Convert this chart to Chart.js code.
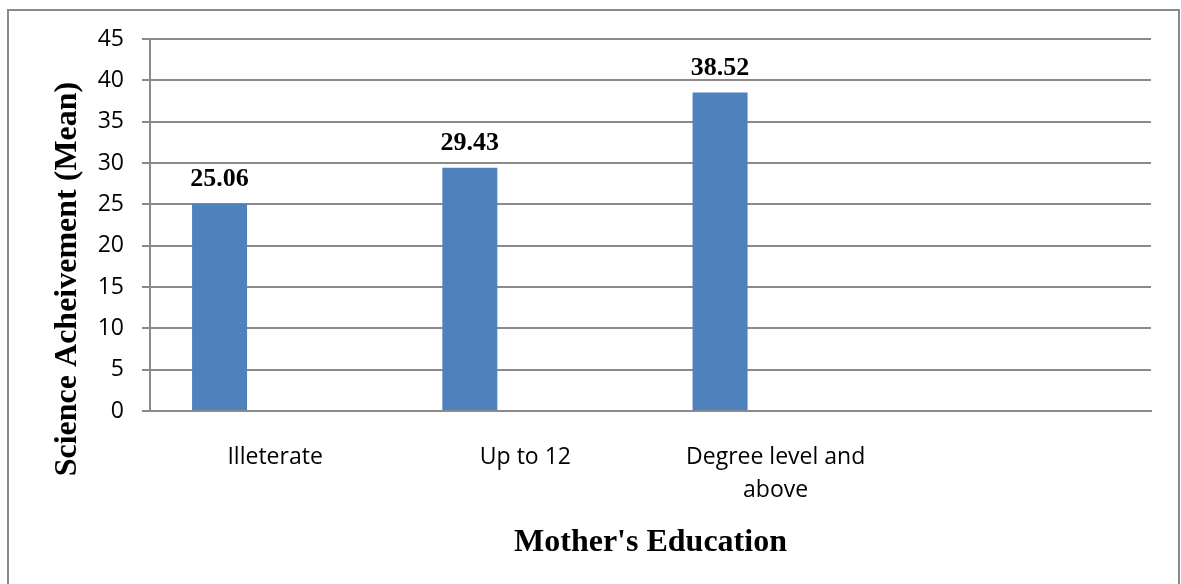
<!DOCTYPE html>
<html>
<head>
<meta charset="utf-8">
<title>Mother's Education</title>
<script src="https://cdn.jsdelivr.net/npm/chart.js@4"></script>
<style>
  html, body { margin: 0; padding: 0; background: #fff; overflow: hidden; }
  #wrap { position: relative; width: 1181px; height: 584px; }
  #frame {
    position: absolute; left: 7px; top: 9px; width: 1169px; height: 600px;
    border: 2px solid #8a8a8a; pointer-events: none;
  }
</style>
</head>
<body>
<div id="wrap">
  <canvas id="eduChart"></canvas>
  <div id="frame"></div>
</div>
<script>
const categories = ['Illeterate', 'Up to 12', ['Degree level and', 'above'], ''];
const meanScores = [25.06, 29.43, 38.52, null];
// two empty series keep the bars in the first slot of each group
const emptySeries = [null, null, null, null];
const yTicks = { min: 0, max: 45, step: 5 };

const yTitle = 'Science Acheivement (Mean)';
const xTitle = "Mother's Education";

const gridGray = '#8a8a8a';
const barBlue = '#4f81bd';
const serif = "'Liberation Serif', 'Times New Roman', serif";
const sans = "'Open Sans', 'Noto Sans', sans-serif";

// value labels above each bar
const valueLabels = {
  id: 'valueLabels',
  afterDatasetsDraw(chart) {
    const ctx = chart.ctx;
    const meta = chart.getDatasetMeta(0);
    ctx.save();
    ctx.font = 'bold 26px ' + serif;
    ctx.fillStyle = '#000';
    ctx.textAlign = 'center';
    ctx.textBaseline = 'alphabetic';
    meta.data.forEach((bar, i) => {
      const v = meanScores[i];
      if (v == null) return;
      ctx.fillText(v.toFixed(2), bar.x, bar.y - 18);
    });
    ctx.restore();
  }
};

// rotated y title, centred on the whole chart height like the office chart
const sideTitle = {
  id: 'sideTitle',
  afterDraw(chart) {
    const ctx = chart.ctx;
    ctx.save();
    ctx.translate(76, chart.height / 2 - 13);
    ctx.rotate(-Math.PI / 2);
    ctx.font = 'bold 32px ' + serif;
    ctx.fillStyle = '#000';
    ctx.textAlign = 'center';
    ctx.textBaseline = 'alphabetic';
    ctx.fillText(yTitle, 0, 0);
    ctx.restore();
  }
};

new Chart(document.getElementById('eduChart'), {
  type: 'bar',
  data: {
    labels: categories,
    datasets: [
      { label: 'Mean', data: meanScores, backgroundColor: barBlue },
      { label: 'Series 2', data: emptySeries, backgroundColor: barBlue },
      { label: 'Series 3', data: emptySeries, backgroundColor: barBlue }
    ]
  },
  options: {
    responsive: true,
    maintainAspectRatio: false,
    animation: false,
    categoryPercentage: 0.666,
    barPercentage: 0.99,
    layout: { padding: { left: 0, right: 30, top: 39, bottom: 0 } },
    plugins: {
      legend: { display: false },
      tooltip: { enabled: false }
    },
    scales: {
      x: {
        grid: { display: false, drawTicks: false },
        border: { display: true, color: gridGray, width: 2 },
        ticks: {
          color: '#000',
          padding: 30,
          maxRotation: 0,
          autoSkip: false,
          font: { family: sans, size: 23, lineHeight: 1.42 }
        },
        title: {
          display: true,
          text: xTitle,
          color: '#000',
          font: { family: serif, size: 32, weight: 'bold' },
          padding: { top: 0, bottom: 22 }
        },
        afterFit(scale) { scale.height = 173; }
      },
      y: {
        min: yTicks.min,
        max: yTicks.max,
        grid: { color: gridGray, lineWidth: 2, tickLength: 8, drawTicks: true },
        border: { display: true, color: gridGray, width: 2 },
        ticks: {
          stepSize: yTicks.step,
          color: '#000',
          padding: 18,
          font: { family: sans, size: 23 }
        },
        afterFit(scale) { scale.width = 150; }
      }
    }
  },
  plugins: [valueLabels, sideTitle]
});
</script>
</body>
</html>
